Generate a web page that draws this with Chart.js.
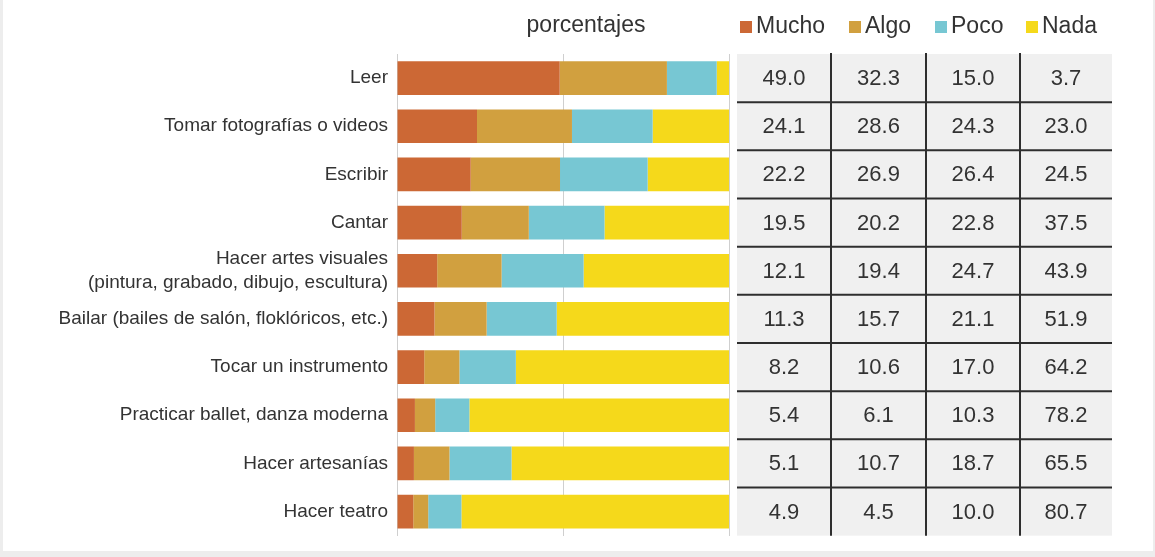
<!DOCTYPE html>
<html lang="es">
<head>
<meta charset="utf-8">
<title>Actividades artísticas</title>
<script src="https://cdn.jsdelivr.net/npm/chart.js@4/dist/chart.umd.min.js"></script>
<style>
  html, body { margin: 0; padding: 0; background: #fff; }
  #wrap { width: 1155px; height: 557px; }
</style>
</head>
<body>
<div id="wrap"><canvas id="actividadesChart" width="1155" height="557"></canvas></div>
<script>
const categorias = [
  "Leer",
  "Tomar fotografías o videos",
  "Escribir",
  "Cantar",
  ["Hacer artes visuales", "(pintura, grabado, dibujo, escultura)"],
  "Bailar (bailes de salón, floklóricos, etc.)",
  "Tocar un instrumento",
  "Practicar ballet, danza moderna",
  "Hacer artesanías",
  "Hacer teatro"
];
const mucho = [49.0, 24.1, 22.2, 19.5, 12.1, 11.3, 8.2, 5.4, 5.1, 4.9];
const algo  = [32.3, 28.6, 26.9, 20.2, 19.4, 15.7, 10.6, 6.1, 10.7, 4.5];
const poco  = [15.0, 24.3, 26.4, 22.8, 24.7, 21.1, 17.0, 10.3, 18.7, 10.0];
const nada  = [3.7, 23.0, 24.5, 37.5, 43.9, 51.9, 64.2, 78.2, 65.5, 80.7];
const nombresSerie = ["Mucho", "Algo", "Poco", "Nada"];
const coloresSerie = ["#cc6835", "#d1a03f", "#77c7d3", "#f5d91b"];

const valores = [mucho, algo, poco, nada];
const FONT = "'Liberation Sans', Arial, Helvetica, sans-serif";
const TEXTO = "#333333";

// marco gris claro alrededor de la figura
const marco = {
  id: "marco",
  beforeDraw(chart) {
    const ctx = chart.ctx;
    ctx.save();
    ctx.fillStyle = "#ededed";
    ctx.fillRect(0, 0, chart.width, chart.height);
    ctx.fillStyle = "#ffffff";
    ctx.fillRect(3, 0, chart.width - 5, chart.height - 6);
    ctx.restore();
  }
};

// título, leyenda y tabla de porcentajes a la derecha de las barras
const tablaValores = {
  id: "tablaValores",
  afterDraw(chart) {
    const ctx = chart.ctx;
    const y = chart.scales.y;
    ctx.save();

    ctx.fillStyle = TEXTO;
    ctx.font = "23px " + FONT;
    ctx.textBaseline = "middle";
    ctx.textAlign = "center";
    ctx.fillText("porcentajes", 586, 26);

    const legendX = [740, 849, 935, 1026];
    ctx.textAlign = "left";
    nombresSerie.forEach((n, i) => {
      ctx.fillStyle = coloresSerie[i];
      ctx.fillRect(legendX[i], 21, 12, 12);
      ctx.fillStyle = TEXTO;
      ctx.fillText(n, legendX[i] + 16, 27);
    });

    const colBordes = [737, 831, 926, 1020, 1112];
    const paso = y.getPixelForValue(1) - y.getPixelForValue(0);
    const top = y.getPixelForValue(0) - paso / 2;
    const bottom = y.getPixelForValue(categorias.length - 1) + paso / 2;

    ctx.fillStyle = "#f0f0f0";
    ctx.fillRect(colBordes[0], top, colBordes[4] - colBordes[0], bottom - top);

    ctx.strokeStyle = "#2e2e2e";
    ctx.lineWidth = 2;
    for (let c = 1; c < 4; c++) {
      ctx.beginPath();
      ctx.moveTo(colBordes[c], top - 1);
      ctx.lineTo(colBordes[c], bottom);
      ctx.stroke();
    }
    for (let r = 0; r < categorias.length - 1; r++) {
      const yy = y.getPixelForValue(r) + paso / 2;
      ctx.beginPath();
      ctx.moveTo(colBordes[0], yy);
      ctx.lineTo(colBordes[4], yy);
      ctx.stroke();
    }

    ctx.fillStyle = TEXTO;
    ctx.font = "22px " + FONT;
    ctx.textAlign = "center";
    for (let r = 0; r < categorias.length; r++) {
      const yy = y.getPixelForValue(r) + 1;
      for (let c = 0; c < 4; c++) {
        const cx = (colBordes[c] + colBordes[c + 1]) / 2;
        ctx.fillText(valores[c][r].toFixed(1), cx, yy);
      }
    }
    ctx.restore();
  }
};

new Chart(document.getElementById("actividadesChart"), {
  type: "bar",
  data: {
    labels: categorias,
    datasets: nombresSerie.map((n, i) => ({
      label: n,
      data: valores[i],
      backgroundColor: coloresSerie[i],
      borderWidth: 0,
      barPercentage: 0.7,
      categoryPercentage: 1
    }))
  },
  options: {
    indexAxis: "y",
    responsive: false,
    animation: false,
    layout: { padding: { top: 54, bottom: 17, right: 426, left: 0 } },
    plugins: {
      legend: { display: false },
      tooltip: { enabled: false }
    },
    scales: {
      x: {
        stacked: true,
        min: 0,
        max: 100,
        ticks: { display: false, stepSize: 50 },
        grid: { color: "#cfcfcf", drawTicks: false },
        border: { display: false }
      },
      y: {
        stacked: true,
        afterFit(scale) { scale.width = 397; },
        grid: { display: false, drawTicks: false },
        border: { display: false },
        ticks: {
          autoSkip: false,
          color: TEXTO,
          padding: 9,
          font: { family: FONT, size: 19, lineHeight: 1.3 }
        }
      }
    }
  },
  plugins: [marco, tablaValores]
});
</script>
</body>
</html>
